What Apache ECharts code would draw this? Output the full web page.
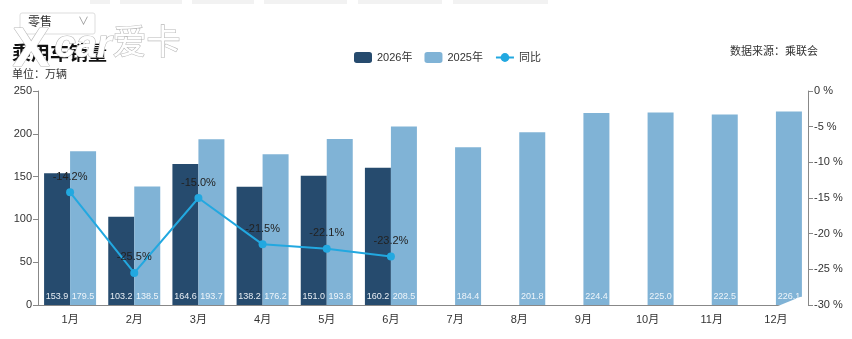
<!DOCTYPE html>
<html><head><meta charset="utf-8">
<script src="https://cdn.jsdelivr.net/npm/echarts@6/dist/echarts.min.js"></script>
<style>html,body{margin:0;padding:0;background:#fff}#c{width:852px;height:339px}</style>
</head><body><div id="c"></div>
<script>
const categories = ['1月','2月','3月','4月','5月','6月','7月','8月','9月','10月','11月','12月'];
const sales2026 = [153.9,103.2,164.6,138.2,151.0,160.2,null,null,null,null,null,null];
const sales2025 = [179.5,138.5,193.7,176.2,193.8,208.5,184.4,201.8,224.4,225.0,222.5,226.1];
const yoy = [-14.2,-25.5,-15.0,-21.5,-22.1,-23.2,null,null,null,null,null,null];
const leftTicks = {min:0,max:250,interval:50};
const rightTicks = {min:-30,max:0,interval:5};

const font = 'Helvetica, "Noto Sans CJK SC", Arial, sans-serif';
const chart = echarts.init(document.getElementById('c'));
const tabs = [[90,110],[120,182],[192,254],[264,347],[358,442],[453,548]];
const wm = {fill:'#fff',stroke:'#b8b8b8',lineWidth:1.2,shadowColor:'rgba(0,0,0,0.35)',shadowBlur:4};
chart.setOption({
  animation:false,
  textStyle:{fontFamily:font},
  grid:{left:38,right:44,top:91,bottom:34},
  legend:{top:47,left:349,itemWidth:18,itemHeight:11,itemGap:12,
    textStyle:{fontSize:11,color:'#333'},
    data:[{name:'2026年',icon:'roundRect'},{name:'2025年',icon:'roundRect'},{name:'同比'}]},
  graphic:[
    ...tabs.map(t=>({type:'rect',shape:{x:t[0],y:0,width:t[1]-t[0],height:4},style:{fill:'#f2f2f2'}})),
    {type:'rect',shape:{x:20,y:13,width:75,height:21,r:2},style:{fill:'#fff',stroke:'#ddd'}},
    {type:'text',left:28,top:17,style:{text:'零售',font:'12px '+font,fill:'#333'}},
    {type:'text',left:78,top:16,style:{text:'∨',font:'11px '+font,fill:'#999'}},
    {type:'text',left:12,top:45,style:{text:'乘用车销量',font:'bold 19px '+font,fill:'#111'}},
    {type:'text',left:12,top:69,style:{text:'单位：万辆',font:'11px '+font,fill:'#333'}},
    {type:'text',left:730,top:46,style:{text:'数据来源：乘联会',font:'11px '+font,fill:'#333'}},
    {type:'text',left:12,top:22,z:100,style:Object.assign({text:'X',font:'bold 56px '+font},wm)},
    {type:'text',left:54,top:27,z:100,style:Object.assign({text:'car',font:'italic bold 38px '+font},wm)},
    {type:'text',left:112,top:27,z:100,style:Object.assign({text:'爱卡',font:'34px '+font},wm)},
    {type:'polygon',z:100,shape:{points:[[778,306],[800,297],[808,296],[808,306]]},style:{fill:'#fff'}}
  ],
  xAxis:{type:'category',data:categories,
    axisLine:{lineStyle:{color:'#888'}},axisTick:{lineStyle:{color:'#888'}},
    axisLabel:{color:'#333',fontSize:11,margin:9}},
  yAxis:[
    {type:'value',min:leftTicks.min,max:leftTicks.max,interval:leftTicks.interval,
      axisLine:{show:true,lineStyle:{color:'#888'}},axisTick:{show:true,lineStyle:{color:'#888'}},
      splitLine:{show:false},axisLabel:{color:'#333',fontSize:11,margin:6}},
    {type:'value',min:rightTicks.min,max:rightTicks.max,interval:rightTicks.interval,position:'right',
      axisLine:{show:true,lineStyle:{color:'#888'}},axisTick:{show:true,lineStyle:{color:'#888'}},
      splitLine:{show:false},axisLabel:{color:'#333',fontSize:11,margin:6,formatter:'{value} %'}}
  ],
  series:[
    {name:'2026年',type:'bar',data:sales2026,barWidth:26,barGap:'0%',
      itemStyle:{color:'#264b6e'},
      label:{show:true,position:'insideBottom',color:'#e8eef4',fontSize:9,distance:4,formatter:p=>p.value.toFixed(1)}},
    {name:'2025年',type:'bar',data:sales2025,barWidth:26,
      itemStyle:{color:'#80b3d6'},
      label:{show:true,position:'insideBottom',color:'#eef5fa',fontSize:9,distance:4,formatter:p=>p.value.toFixed(1)}},
    {name:'同比',type:'line',yAxisIndex:1,data:yoy,symbol:'circle',symbolSize:8,
      lineStyle:{color:'#22a8e0',width:2},itemStyle:{color:'#22a8e0'},
      label:{show:true,position:'top',color:'#222',fontSize:11,distance:6,formatter:p=>p.value.toFixed(1)+'%'}}
  ]
});
</script></body></html>
